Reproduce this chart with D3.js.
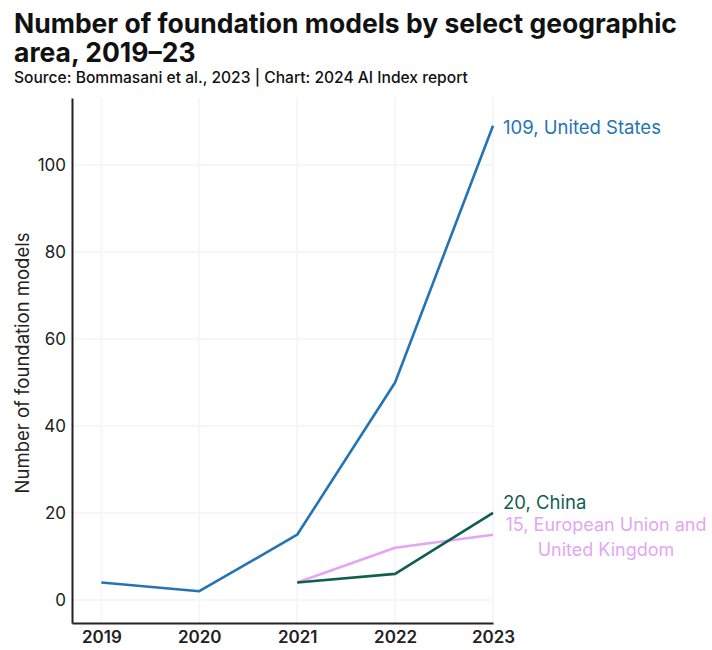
<!DOCTYPE html>
<html>
<head>
<meta charset="utf-8">
<script src="https://cdn.jsdelivr.net/npm/d3@7"></script>
<style>
  html, body { margin: 0; padding: 0; background: #fff; }
  svg { display: block; font-family: Inter, "Open Sans", sans-serif; }
</style>
</head>
<body>
<svg id="chart" width="712" height="650"></svg>
<script>
// Foundation models released per year, by geographic area
const years = [2019, 2020, 2021, 2022, 2023];
const unitedStates = [4, 2, 15, 50, 109];
const china = [null, null, 4, 6, 20];
const euUk = [null, null, 4, 12, 15];
const yTicks = [0, 20, 40, 60, 80, 100];

const seriesNames = ["United States", "China", "European Union and United Kingdom"];
const seriesColors = ["#2474b5", "#0f5f4f", "#e3a6f2"];

const svg = d3.select("#chart");

const x = d3.scaleLinear().domain([2018.7, 2023]).range([72, 493]);
const y = d3.scaleLinear().domain([-5.3, 115.4]).range([623, 98]);

// Title block
svg.append("text").attr("x", 14).attr("y", 33)
  .attr("font-size", 26.5).attr("font-weight", 700).attr("fill", "#111")
  .text("Number of foundation models by select geographic");
svg.append("text").attr("x", 14).attr("y", 62)
  .attr("font-size", 26.5).attr("font-weight", 700).attr("fill", "#111")
  .text("area, 2019–23");
svg.append("text").attr("x", 14).attr("y", 83)
  .attr("font-size", 15.6).attr("font-weight", 500).attr("fill", "#111")
  .text("Source: Bommasani et al., 2023 | Chart: 2024 AI Index report");

// Faint grid
const grid = svg.append("g");
grid.selectAll("line.h").data(yTicks).join("line")
  .attr("x1", 72).attr("x2", 493)
  .attr("y1", d => y(d)).attr("y2", d => y(d))
  .attr("stroke", "#f6f6f6").attr("stroke-width", 2);
grid.selectAll("line.v").data(years).join("line")
  .attr("x1", d => x(d)).attr("x2", d => x(d))
  .attr("y1", y(115.4)).attr("y2", y(-5.3))
  .attr("stroke", "#f6f6f6").attr("stroke-width", 2);

// Axes
const yAxis = svg.append("g").attr("transform", `translate(${x(2018.7)},0)`)
  .call(d3.axisLeft(y).tickValues(yTicks).tickSize(0).tickPadding(6));
const xAxis = svg.append("g").attr("transform", `translate(0,${y(-5.3)})`)
  .call(d3.axisBottom(x).tickValues(years).tickFormat(d3.format("d")).tickSize(0).tickPadding(8));
[yAxis, xAxis].forEach(g => {
  g.select(".domain").attr("stroke", "#222").attr("stroke-width", 2);
  g.selectAll("text").attr("font-size", 17).attr("fill", "#222")
    .attr("font-family", "Inter, 'Open Sans', sans-serif");
});
xAxis.selectAll("text").attr("font-weight", 600);

svg.append("text")
  .attr("transform", "translate(29,363) rotate(-90)")
  .attr("text-anchor", "middle").attr("font-size", 18.5).attr("fill", "#222")
  .text("Number of foundation models");

// Series lines
const seriesData = [unitedStates, china, euUk];
const line = d3.line()
  .defined(d => d.v != null)
  .x(d => x(d.year)).y(d => y(d.v));

const drawOrder = [2, 1, 0];
drawOrder.forEach(i => {
  const pts = years.map((yr, k) => ({ year: yr, v: seriesData[i][k] }));
  svg.append("path").datum(pts)
    .attr("fill", "none").attr("stroke", seriesColors[i])
    .attr("stroke-width", 2.6).attr("stroke-linejoin", "round")
    .attr("d", line);
});

// End labels
const lastIdx = years.length - 1;
svg.append("text").attr("x", x(2023) + 10).attr("y", y(unitedStates[lastIdx]) + 8)
  .attr("font-size", 18.5).attr("fill", seriesColors[0])
  .text(`${unitedStates[lastIdx]}, ${seriesNames[0]}`);
svg.append("text").attr("x", x(2023) + 10).attr("y", y(china[lastIdx]) - 4)
  .attr("font-size", 18.5).attr("fill", seriesColors[1])
  .text(`${china[lastIdx]}, ${seriesNames[1]}`);
const euLabel = svg.append("text").attr("text-anchor", "middle")
  .attr("font-size", 18).attr("fill", seriesColors[2]);
euLabel.append("tspan").attr("x", 606).attr("y", y(euUk[lastIdx]) - 4)
  .text(`${euUk[lastIdx]}, European Union and`);
euLabel.append("tspan").attr("x", 606).attr("y", y(euUk[lastIdx]) + 21)
  .text("United Kingdom");
</script>
</body>
</html>
